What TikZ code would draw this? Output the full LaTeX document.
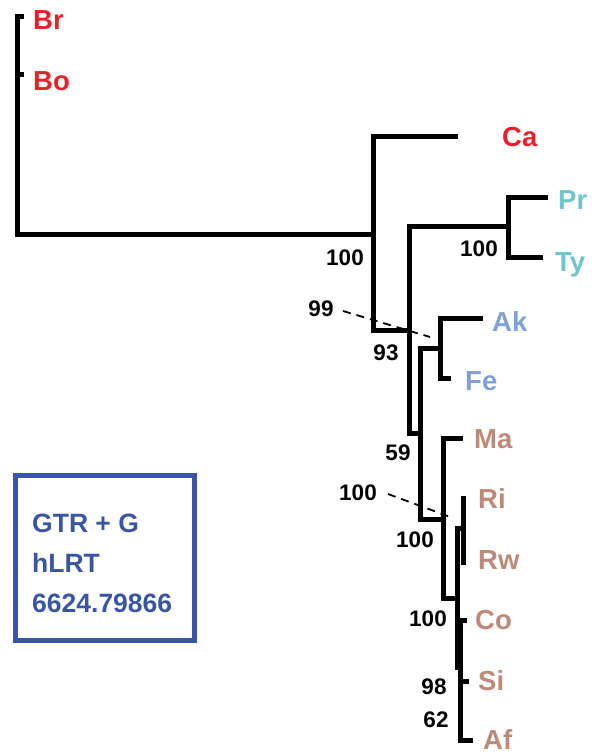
\documentclass[tikz,border=0pt]{standalone}
\usepackage{fontspec}
\setmainfont{Liberation Sans}
\definecolor{tred}{RGB}{232,32,42}
\definecolor{tteal}{RGB}{110,198,202}
\definecolor{tlblue}{RGB}{128,160,214}
\definecolor{tbrown}{RGB}{190,137,120}
\definecolor{tbox}{RGB}{59,85,165}
\begin{document}
\begin{tikzpicture}[x=1pt,y=-1pt,
  br/.style={line width=5pt,line join=miter,line cap=rect},
  dsh/.style={line width=1.8pt,dash pattern=on 8pt off 6pt},
  taxon/.style={anchor=base west,inner sep=0pt,font=\fontsize{27.5}{30}\selectfont\bfseries},
  supp/.style={anchor=base,inner sep=0pt,font=\fontsize{22.5}{26}\selectfont\bfseries},
  boxtxt/.style={anchor=base west,inner sep=0pt,text=tbox,font=\fontsize{26.5}{30}\selectfont\bfseries}]
\useasboundingbox (0,0) rectangle (596,754);
% coordinates
\coordinate (cBr) at (17,17);   \coordinate (tBr) at (21,17);
\coordinate (cBo) at (17,75);   \coordinate (tBo) at (21,75);
\coordinate (r0) at (17,234);
\coordinate (n1) at (373,234);  \coordinate (n1t) at (373,137); \coordinate (n1b) at (373,330);
\coordinate (tCa) at (455,137);
\coordinate (n2) at (409,330);  \coordinate (n2t) at (409,226); \coordinate (n2b) at (409,433);
\coordinate (nPT) at (508,226); \coordinate (nPTt) at (508,197); \coordinate (nPTb) at (508,257);
\coordinate (tPr) at (545,197); \coordinate (tTy) at (540,257);
\coordinate (n3) at (420,433);  \coordinate (n3t) at (420,348); \coordinate (n3b) at (420,519);
\coordinate (nAF) at (440,348); \coordinate (nAFt) at (440,318); \coordinate (nAFb) at (440,378);
\coordinate (tAk) at (480,318); \coordinate (tFe) at (448,378);
\coordinate (n4) at (443,519);  \coordinate (n4t) at (443,438); \coordinate (n4b) at (443,598);
\coordinate (tMa) at (460,438);
\coordinate (n5) at (457,598);  \coordinate (n5t) at (457,528); \coordinate (n5b) at (457,667);
\coordinate (nRR) at (463,528);
\coordinate (nRRt) at (463,498); \coordinate (nRRb) at (463,562);
\coordinate (n6) at (460,667);  \coordinate (n6t) at (460,620); \coordinate (n6b) at (460,740);
\coordinate (cSi) at (460,681); \coordinate (tSi) at (466,681);
\coordinate (tCo) at (464,620); \coordinate (tAf) at (470,740);
% tree
\draw[br] (tBr) -- (cBr) -- (r0) -- (n1);
\draw[br] (cBo) -- (tBo);
\draw[br] (tCa) -- (n1t) -- (n1b) -- (n2);
\draw[br] (nPT) -- (n2t) -- (n2b) -- (n3);
\draw[br] (tPr) -- (nPTt) -- (nPTb) -- (tTy);
\draw[br] (n3t) -- (n3b) -- (n4);
\draw[br] (n3t) -- (nAF);
\draw[br] (tAk) -- (nAFt) -- (nAFb) -- (tFe);
\draw[br] (tMa) -- (n4t) -- (n4b) -- (n5);
\draw[br] (n5t) -- (n5b) -- (n6);
\draw[br] (n5t) -- (nRR);
\draw[br] (nRRt) -- (nRRb);
\draw[br] (n6t) -- (n6b) -- (tAf);
\draw[br] (n6t) -- (tCo);
\draw[br] (cSi) -- (tSi);
% taxa
\node[taxon,text=tred] (Br) at (33,30) {Br};
\node[taxon,text=tred] (Bo) at (33,91) {Bo};
\node[taxon,text=tred] (Ca) at (502,147) {Ca};
\node[taxon,text=tteal] (Pr) at (558,209) {Pr};
\node[taxon,text=tteal] (Ty) at (555,271) {Ty};
\node[taxon,text=tlblue] (Ak) at (492,331) {Ak};
\node[taxon,text=tlblue] (Fe) at (465,390) {Fe};
\node[taxon,text=tbrown] (Ma) at (474,448) {Ma};
\node[taxon,text=tbrown] (Ri) at (478,508) {Ri};
\node[taxon,text=tbrown] (Rw) at (478,569) {Rw};
\node[taxon,text=tbrown] (Co) at (475,629) {Co};
\node[taxon,text=tbrown] (Si) at (478,690) {Si};
\node[taxon,text=tbrown] (Af) at (483,749) {Af};
% support values
\node[supp] (s1) at (345,265) {100};
\node[supp] (s2) at (479,256) {100};
\node[supp] (s3) at (321,316) {99};
\node[supp] (s4) at (386,360) {93};
\node[supp] (s5) at (398,460) {59};
\node[supp] (s6) at (358,500) {100};
\node[supp] (s7) at (415,547) {100};
\node[supp] (s8) at (428,626) {100};
\node[supp] (s9) at (434,694) {98};
\node[supp] (s10) at (436,727) {62};
\coordinate (d1s) at (343,311); \coordinate (d1) at (430,337);
\coordinate (d2s) at (388,494); \coordinate (d2) at (453,518);
\draw[dsh] (d1s) -- (d1);
\draw[dsh] (d2s) -- (d2);
% box
\node[draw=tbox,line width=5pt,minimum width=179pt,minimum height=165pt,inner sep=0pt] (box) at (105,558) {};
\node[boxtxt] (b1) at (32,532) {GTR + G};
\node[boxtxt] (b2) at (32,572) {hLRT};
\node[boxtxt] (b3) at (32,612) {6624.79866};
\end{tikzpicture}
\end{document}
